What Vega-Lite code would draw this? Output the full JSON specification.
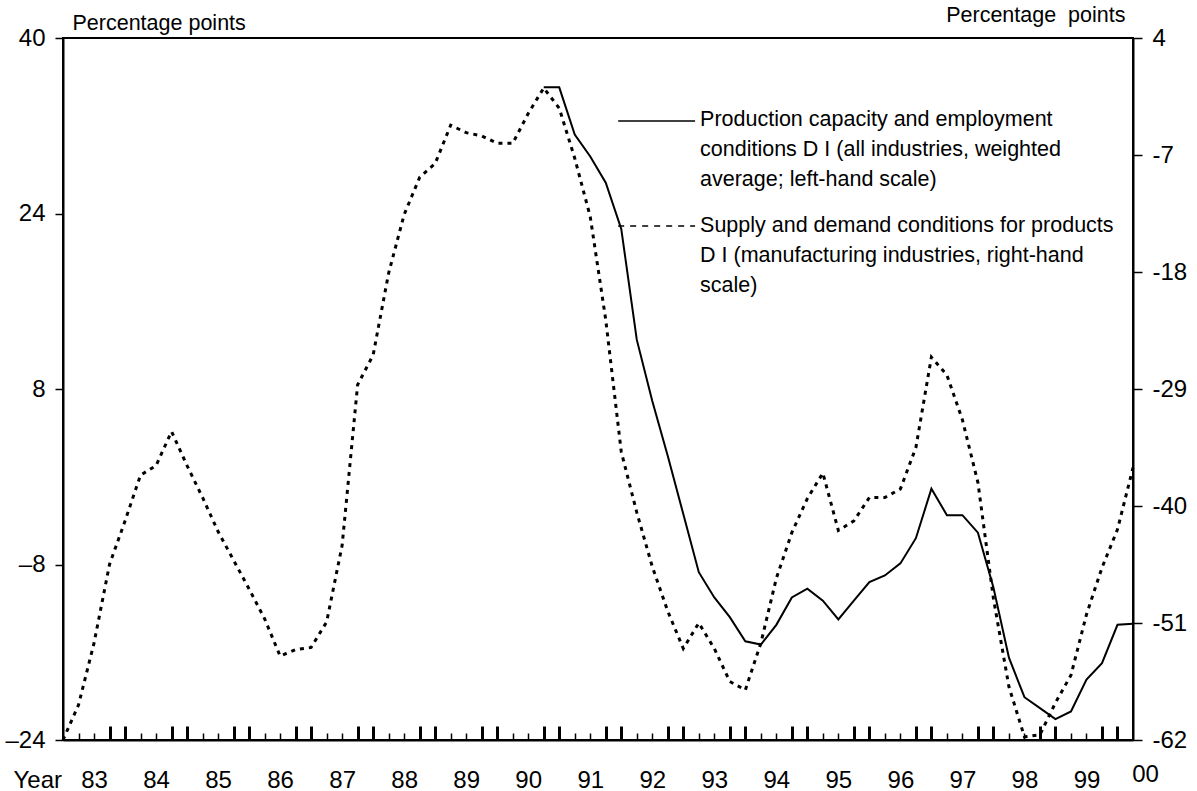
{
  "$schema": "https://vega.github.io/schema/vega-lite/v6.json",
  "width": 1070,
  "height": 702,
  "autosize": "none",
  "padding": {"left": 63, "top": 38, "right": 64, "bottom": 51},
  "background": "white",
  "config": {
    "view": {"stroke": "black", "strokeWidth": 2},
    "font": "Liberation Sans",
    "axis": {
      "labelFont": "Liberation Sans",
      "titleFont": "Liberation Sans",
      "labelColor": "black",
      "titleColor": "black",
      "domainColor": "black",
      "tickColor": "black",
      "grid": false,
      "labelFontSize": 24,
      "titleFontSize": 21.5,
      "titleFontWeight": "normal",
      "labelFlush": false,
      "labelOverlap": false
    },
    "text": {"font": "Liberation Sans"}
  },
  "datasets": {
    "series": [
      {"t": 83.0, "series": "supply", "value": -62.0},
      {"t": 83.25, "series": "supply", "value": -58.7},
      {"t": 83.5, "series": "supply", "value": -52.9},
      {"t": 83.75, "series": "supply", "value": -45.5},
      {"t": 84.0, "series": "supply", "value": -41.4},
      {"t": 84.25, "series": "supply", "value": -37.1},
      {"t": 84.5, "series": "supply", "value": -36.2},
      {"t": 84.75, "series": "supply", "value": -33.0},
      {"t": 85.0, "series": "supply", "value": -36.2},
      {"t": 85.25, "series": "supply", "value": -39.2},
      {"t": 85.5, "series": "supply", "value": -42.4},
      {"t": 85.75, "series": "supply", "value": -45.1},
      {"t": 86.0, "series": "supply", "value": -47.8},
      {"t": 86.25, "series": "supply", "value": -50.6},
      {"t": 86.5, "series": "supply", "value": -54.1},
      {"t": 86.75, "series": "supply", "value": -53.5},
      {"t": 87.0, "series": "supply", "value": -53.3},
      {"t": 87.25, "series": "supply", "value": -50.9},
      {"t": 87.5, "series": "supply", "value": -43.7},
      {"t": 87.75, "series": "supply", "value": -28.6},
      {"t": 88.0, "series": "supply", "value": -25.8},
      {"t": 88.25, "series": "supply", "value": -18.1},
      {"t": 88.5, "series": "supply", "value": -12.6},
      {"t": 88.75, "series": "supply", "value": -9.1},
      {"t": 89.0, "series": "supply", "value": -7.8},
      {"t": 89.25, "series": "supply", "value": -4.2},
      {"t": 89.5, "series": "supply", "value": -4.9},
      {"t": 89.75, "series": "supply", "value": -5.2},
      {"t": 90.0, "series": "supply", "value": -5.9},
      {"t": 90.25, "series": "supply", "value": -5.9},
      {"t": 90.5, "series": "supply", "value": -3.1},
      {"t": 90.75, "series": "supply", "value": -0.7},
      {"t": 91.0, "series": "supply", "value": -2.6},
      {"t": 91.25, "series": "supply", "value": -7.3},
      {"t": 91.5, "series": "supply", "value": -12.8},
      {"t": 91.75, "series": "supply", "value": -22.5},
      {"t": 92.0, "series": "supply", "value": -34.9},
      {"t": 92.25, "series": "supply", "value": -40.6},
      {"t": 92.5, "series": "supply", "value": -45.7},
      {"t": 92.75, "series": "supply", "value": -49.9},
      {"t": 93.0, "series": "supply", "value": -53.4},
      {"t": 93.25, "series": "supply", "value": -51.0},
      {"t": 93.5, "series": "supply", "value": -53.4},
      {"t": 93.75, "series": "supply", "value": -56.5},
      {"t": 94.0, "series": "supply", "value": -57.3},
      {"t": 94.25, "series": "supply", "value": -52.9},
      {"t": 94.5, "series": "supply", "value": -46.8},
      {"t": 94.75, "series": "supply", "value": -42.5},
      {"t": 95.0, "series": "supply", "value": -39.3},
      {"t": 95.25, "series": "supply", "value": -36.9},
      {"t": 95.5, "series": "supply", "value": -42.3},
      {"t": 95.75, "series": "supply", "value": -41.4},
      {"t": 96.0, "series": "supply", "value": -39.2},
      {"t": 96.25, "series": "supply", "value": -39.2},
      {"t": 96.5, "series": "supply", "value": -38.4},
      {"t": 96.75, "series": "supply", "value": -34.5},
      {"t": 97.0, "series": "supply", "value": -26.0},
      {"t": 97.25, "series": "supply", "value": -27.7},
      {"t": 97.5, "series": "supply", "value": -31.9},
      {"t": 97.75, "series": "supply", "value": -37.8},
      {"t": 98.0, "series": "supply", "value": -48.7},
      {"t": 98.25, "series": "supply", "value": -57.0},
      {"t": 98.5, "series": "supply", "value": -61.7},
      {"t": 98.75, "series": "supply", "value": -61.5},
      {"t": 99.0, "series": "supply", "value": -58.5},
      {"t": 99.25, "series": "supply", "value": -55.9},
      {"t": 99.5, "series": "supply", "value": -50.2},
      {"t": 99.75, "series": "supply", "value": -45.8},
      {"t": 100.0, "series": "supply", "value": -42.2},
      {"t": 100.25, "series": "supply", "value": -36.4},
      {"t": 90.75, "series": "production", "value": 35.5},
      {"t": 91.0, "series": "production", "value": 35.5},
      {"t": 91.25, "series": "production", "value": 31.2},
      {"t": 91.5, "series": "production", "value": 29.2},
      {"t": 91.75, "series": "production", "value": 26.8},
      {"t": 92.0, "series": "production", "value": 22.6},
      {"t": 92.25, "series": "production", "value": 12.5},
      {"t": 92.5, "series": "production", "value": 6.9},
      {"t": 92.75, "series": "production", "value": 1.9},
      {"t": 93.0, "series": "production", "value": -3.4},
      {"t": 93.25, "series": "production", "value": -8.7},
      {"t": 93.5, "series": "production", "value": -11.0},
      {"t": 93.75, "series": "production", "value": -12.8},
      {"t": 94.0, "series": "production", "value": -15.0},
      {"t": 94.25, "series": "production", "value": -15.3},
      {"t": 94.5, "series": "production", "value": -13.5},
      {"t": 94.75, "series": "production", "value": -11.0},
      {"t": 95.0, "series": "production", "value": -10.2},
      {"t": 95.25, "series": "production", "value": -11.3},
      {"t": 95.5, "series": "production", "value": -13.0},
      {"t": 95.75, "series": "production", "value": -11.3},
      {"t": 96.0, "series": "production", "value": -9.6},
      {"t": 96.25, "series": "production", "value": -9.0},
      {"t": 96.5, "series": "production", "value": -7.9},
      {"t": 96.75, "series": "production", "value": -5.6},
      {"t": 97.0, "series": "production", "value": -1.1},
      {"t": 97.25, "series": "production", "value": -3.5},
      {"t": 97.5, "series": "production", "value": -3.5},
      {"t": 97.75, "series": "production", "value": -5.1},
      {"t": 98.0, "series": "production", "value": -10.1},
      {"t": 98.25, "series": "production", "value": -16.5},
      {"t": 98.5, "series": "production", "value": -20.1},
      {"t": 98.75, "series": "production", "value": -21.1},
      {"t": 99.0, "series": "production", "value": -22.1},
      {"t": 99.25, "series": "production", "value": -21.4},
      {"t": 99.5, "series": "production", "value": -18.5},
      {"t": 99.75, "series": "production", "value": -17.0},
      {"t": 100.0, "series": "production", "value": -13.5},
      {"t": 100.25, "series": "production", "value": -13.4}
    ],
    "leaders": [
      {"series": "production", "t": 91.95, "t2": 93.19, "v": 32.43},
      {"series": "supply", "t": 91.95, "t2": 93.19, "v": 22.86}
    ],
    "notes": [
      {"t": 93.27, "v": 32.52, "line": "Production capacity and employment"},
      {"t": 93.27, "v": 29.79, "line": "conditions D I (all industries, weighted"},
      {"t": 93.27, "v": 27.05, "line": "average; left-hand scale)"},
      {"t": 93.27, "v": 22.86, "line": "Supply and demand conditions for products"},
      {"t": 93.27, "v": 20.13, "line": "D I (manufacturing industries, right-hand"},
      {"t": 93.27, "v": 17.39, "line": "scale)"}
    ]
  },
  "layer": [
    {
      "data": {"name": "series"},
      "transform": [{"filter": "datum.series === 'production'"}],
      "mark": {"type": "line", "color": "black", "strokeWidth": 2},
      "encoding": {
        "x": {
          "field": "t", "type": "quantitative",
          "scale": {"domain": [83, 100.25], "nice": false, "zero": false},
          "axis": {
            "orient": "bottom",
            "values": [83.5, 84.5, 85.5, 86.5, 87.5, 88.5, 89.5, 90.5, 91.5, 92.5, 93.5, 94.5, 95.5, 96.5, 97.5, 98.5, 99.5],
            "labelExpr": "'' + floor(datum.value)",
            "ticks": false,
            "domain": false,
            "labelPadding": 40,
            "labelBaseline": "middle",
            "labelAlign": "center",
            "title": "Year",
            "titleFontSize": 24,
            "titleAnchor": null,
            "titleAlign": "left",
            "titleBaseline": "middle",
            "titleX": -50,
            "titleY": 40
          }
        },
        "y": {
          "field": "value", "type": "quantitative",
          "scale": {"domain": [-24, 40], "nice": false, "zero": false},
          "axis": {
            "orient": "left",
            "values": [40, 24, 8, -8, -24],
            "labelExpr": "datum.value < 0 ? '–' + abs(datum.value) : '' + datum.value",
            "tickSize": 8,
            "tickWidth": 1.5,
            "labelPadding": 10,
            "labelBaseline": "middle",
            "domainWidth": 2,
            "title": "Percentage points",
            "titleAngle": 0,
            "titleAnchor": null,
            "titleAlign": "left",
            "titleBaseline": "alphabetic",
            "titleX": 9,
            "titleY": -9
          }
        }
      }
    },
    {
      "data": {"name": "series"},
      "transform": [{"filter": "datum.series === 'supply'"}],
      "mark": {"type": "line", "color": "black", "strokeWidth": 3, "strokeDash": [4, 5]},
      "encoding": {
        "x": {
          "field": "t", "type": "quantitative",
          "scale": {"domain": [83, 100.25], "nice": false, "zero": false},
          "axis": {
            "orient": "bottom",
            "values": [83.25, 83.5, 84.25, 84.5, 85.25, 85.5, 86.25, 86.5, 87.25, 87.5, 88.25, 88.5, 89.25, 89.5, 90.25, 90.5, 91.25, 91.5, 92.25, 92.5, 93.25, 93.5, 94.25, 94.5, 95.25, 95.5, 96.25, 96.5, 97.25, 97.5, 98.25, 98.5, 99.25, 99.5],
            "labels": false,
            "tickSize": -7,
            "tickWidth": 1.5,
            "domain": true,
            "domainWidth": 2,
            "title": null
          }
        },
        "y": {
          "field": "value", "type": "quantitative",
          "scale": {"domain": [-62, 4], "nice": false, "zero": false},
          "axis": {
            "orient": "right",
            "values": [4, -7, -18, -29, -40, -51, -62],
            "labelExpr": "datum.value < 0 ? '-' + abs(datum.value) : '' + datum.value",
            "tickSize": 9,
            "tickWidth": 1.5,
            "labelPadding": 10,
            "labelBaseline": "middle",
            "domainWidth": 2,
            "title": "Percentage\u00a0 points",
            "titleAngle": 0,
            "titleAnchor": null,
            "titleAlign": "right",
            "titleBaseline": "alphabetic",
            "titleX": -8,
            "titleY": -17
          }
        }
      }
    },
    {
      "data": {"name": "leaders"},
      "mark": {"type": "rule", "color": "black", "strokeWidth": 1.5},
      "encoding": {
        "x": {
          "field": "t", "type": "quantitative",
          "scale": {"domain": [83, 100.25], "nice": false, "zero": false},
          "axis": {
            "orient": "bottom",
            "values": [83.75, 84.0, 84.75, 85.0, 85.75, 86.0, 86.75, 87.0, 87.75, 88.0, 88.75, 89.0, 89.75, 90.0, 90.75, 91.0, 91.75, 92.0, 92.75, 93.0, 93.75, 94.0, 94.75, 95.0, 95.75, 96.0, 96.75, 97.0, 97.75, 98.0, 98.75, 99.0, 99.75, 100.0],
            "labels": false,
            "tickSize": -14,
            "tickWidth": 3,
            "domain": false,
            "title": null
          }
        },
        "x2": {"field": "t2"},
        "y": {
          "field": "v", "type": "quantitative",
          "scale": {"domain": [-24, 40], "nice": false, "zero": false},
          "axis": null
        },
        "strokeDash": {
          "field": "series", "type": "nominal",
          "scale": {"domain": ["production", "supply"], "range": [[1, 0], [6, 6]]},
          "legend": null
        }
      }
    },
    {
      "data": {"name": "notes"},
      "mark": {"type": "text", "align": "left", "baseline": "middle", "fontSize": 21.5, "color": "black", "font": "Liberation Sans"},
      "encoding": {
        "x": {
          "field": "t", "type": "quantitative",
          "scale": {"domain": [83, 100.25], "nice": false, "zero": false},
          "axis": {
            "orient": "bottom",
            "values": [100.25],
            "labelExpr": "'00'",
            "ticks": false,
            "domain": false,
            "labelOffset": 12,
            "labelPadding": 34,
            "labelBaseline": "middle",
            "labelAlign": "center",
            "title": null
          }
        },
        "y": {
          "field": "v", "type": "quantitative",
          "scale": {"domain": [-24, 40], "nice": false, "zero": false},
          "axis": null
        },
        "text": {"field": "line", "type": "nominal"}
      }
    }
  ],
  "resolve": {
    "scale": {"y": "independent"},
    "axis": {"x": "independent", "y": "independent"}
  }
}
